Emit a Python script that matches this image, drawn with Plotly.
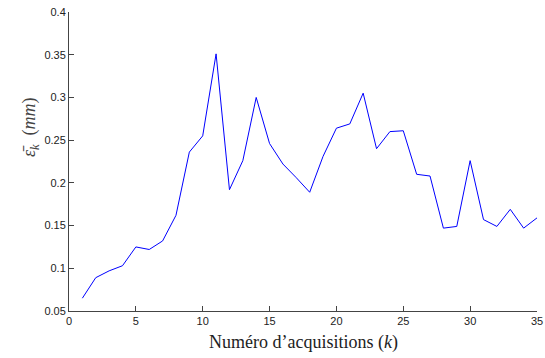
import plotly.graph_objects as go

# Données
k = list(range(1, 36))
erreur_moy = [
    0.065, 0.089, 0.097, 0.103, 0.125, 0.122, 0.132, 0.162, 0.236, 0.255,
    0.351, 0.192, 0.226, 0.300, 0.246, 0.222, 0.206, 0.189, 0.231, 0.264,
    0.269, 0.305, 0.240, 0.260, 0.261, 0.210, 0.208, 0.147, 0.149, 0.226,
    0.157, 0.149, 0.169, 0.147, 0.159,
]
x_ticks = [0, 5, 10, 15, 20, 25, 30, 35]
y_ticks = [0.05, 0.1, 0.15, 0.2, 0.25, 0.3, 0.35, 0.4]
y_tick_labels = ["0.05", "0.1", "0.15", "0.2", "0.25", "0.3", "0.35", "0.4"]

fig = go.Figure()
fig.add_trace(go.Scatter(
    x=k, y=erreur_moy, mode="lines",
    line=dict(color="#0000ff", width=1),
    showlegend=False,
))

axe = dict(
    showline=True, linecolor="#444444", linewidth=1,
    ticks="inside", ticklen=5, tickcolor="#444444", tickwidth=1,
    showgrid=False, zeroline=False, mirror=False, automargin=False,
    tickfont=dict(family="Liberation Sans, Arial", size=11, color="#222222"),
)

fig.update_layout(
    width=545, height=358,
    margin=dict(l=69, r=8, t=12, b=47),
    paper_bgcolor="white", plot_bgcolor="white",
    xaxis=dict(axe, range=[0, 35], tickvals=x_ticks),
    yaxis=dict(axe, range=[0.05, 0.4], tickvals=y_ticks, ticktext=y_tick_labels),
    annotations=[
        dict(
            text="Numéro d’acquisitions (<i>k</i>)",
            xref="paper", yref="paper", x=0.5, y=0, yshift=-19,
            xanchor="center", yanchor="top", showarrow=False,
            font=dict(family="Liberation Serif, DejaVu Serif", size=18, color="#222222"),
        ),
        dict(
            text="<i>\u03b5\u0304</i><sub><i>k</i></sub>  (<i>mm</i>)",
            xref="paper", yref="paper", x=0, y=0.615, xshift=-39,
            xanchor="center", yanchor="middle", showarrow=False, textangle=-90,
            font=dict(family="Liberation Serif, DejaVu Serif", size=18, color="#444444"),
        ),
    ],
)

# marge du corps de page à zéro
fig.write_html("out.html", config={"displayModeBar": False},
               post_script="document.body.style.margin='0';")
